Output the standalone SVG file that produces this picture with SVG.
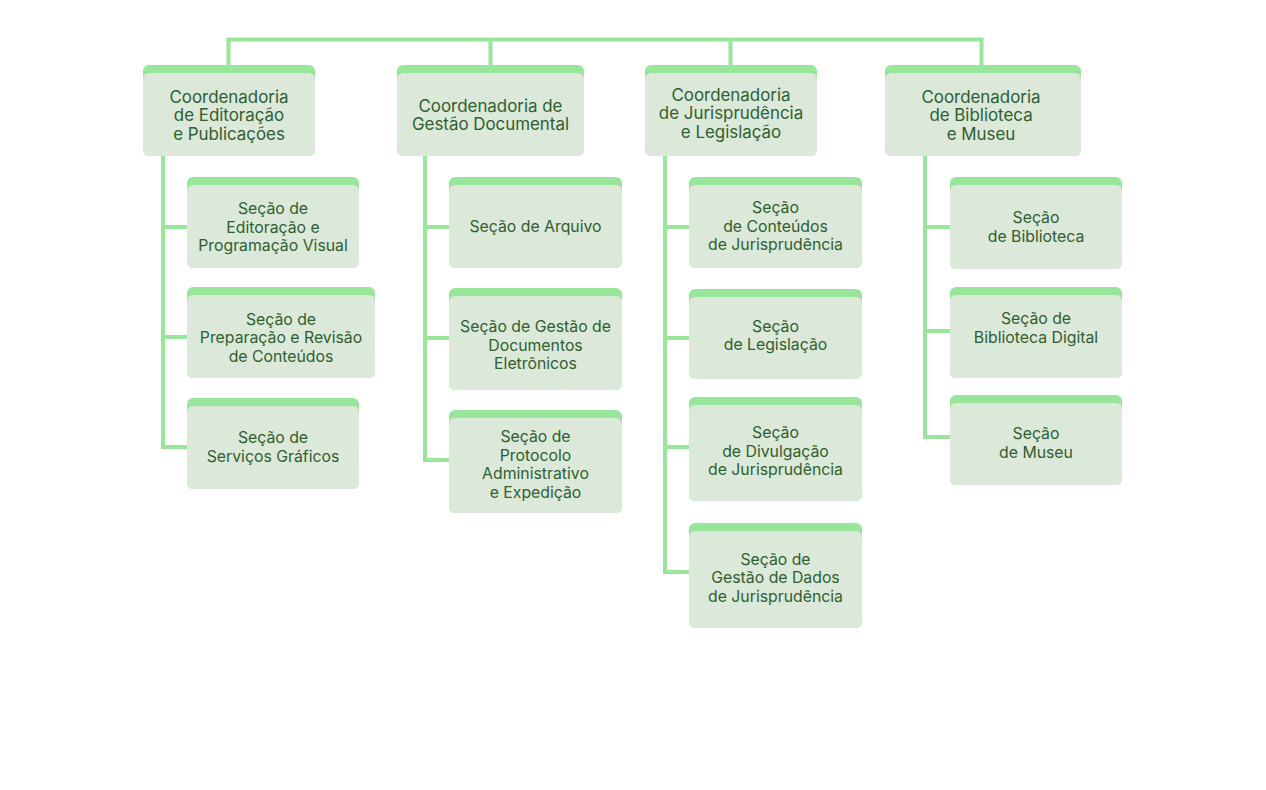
<svg xmlns="http://www.w3.org/2000/svg" width="1266" height="790" viewBox="0 0 1266 790">
<style>
.top{fill:#98e69c}
.body{fill:#dce8da}
.c{font-family:Inter,"Liberation Sans",sans-serif;font-size:16.9px;fill:#2e5f2f;text-anchor:middle}
.s{font-family:Inter,"Liberation Sans",sans-serif;font-size:15.8px;fill:#2e5f2f;text-anchor:middle}
.ln{fill:none;stroke:#98e69c;stroke-width:4;stroke-linejoin:miter;stroke-linecap:butt}
</style>
<rect width="1266" height="790" fill="#ffffff"/>
<g id="connectors">
<path class="ln" d="M228.5 65V39.5H981.5V65M490.5 39.5V65M730.5 39.5V65"/>
<path class="ln" d="M163 156V447H187M163 227H187M163 337H187"/>
<path class="ln" d="M425 156V460H449M425 227H449M425 338H449"/>
<path class="ln" d="M665 156V572H689M665 227H689M665 338H689M665 447H689"/>
<path class="ln" d="M925 156V437H950M925 227H950M925 331H950"/>
</g>
<g id="coord1"><rect class="top" x="143" y="65" width="172" height="91" rx="6"/><rect class="body" x="143" y="73" width="172" height="83" rx="6"/>
<text class="c" x="229" y="102.5">Coordenadoria</text><text class="c" x="229" y="121">de Editoração</text><text class="c" x="229" y="139.5">e Publicações</text></g>
<g id="coord2"><rect class="top" x="397" y="65" width="187" height="91" rx="6"/><rect class="body" x="397" y="73" width="187" height="83" rx="6"/>
<text class="c" x="490.5" y="111.5">Coordenadoria de</text><text class="c" x="490.5" y="130">Gestão Documental</text></g>
<g id="coord3"><rect class="top" x="645" y="65" width="172" height="91" rx="6"/><rect class="body" x="645" y="73" width="172" height="83" rx="6"/>
<text class="c" x="731" y="100.5">Coordenadoria</text><text class="c" x="731" y="119">de Jurisprudência</text><text class="c" x="731" y="137.5">e Legislação</text></g>
<g id="coord4"><rect class="top" x="885" y="65" width="196" height="91" rx="6"/><rect class="body" x="885" y="73" width="196" height="83" rx="6"/>
<text class="c" x="981" y="102.5">Coordenadoria</text><text class="c" x="981" y="121">de Biblioteca</text><text class="c" x="981" y="139.5">e Museu</text></g>

<g id="s1a"><rect class="top" x="187" y="177" width="172" height="91" rx="6"/><rect class="body" x="187" y="185" width="172" height="83" rx="6"/>
<text class="s" x="273" y="214">Seção de</text><text class="s" x="273" y="232.5">Editoração e</text><text class="s" x="273" y="251">Programação Visual</text></g>
<g id="s1b"><rect class="top" x="187" y="287" width="188" height="91" rx="6"/><rect class="body" x="187" y="295" width="188" height="83" rx="6"/>
<text class="s" x="281" y="324.5">Seção de</text><text class="s" x="281" y="343">Preparação e Revisão</text><text class="s" x="281" y="361.5">de Conteúdos</text></g>
<g id="s1c"><rect class="top" x="187" y="398" width="172" height="91" rx="6"/><rect class="body" x="187" y="406" width="172" height="83" rx="6"/>
<text class="s" x="273" y="443">Seção de</text><text class="s" x="273" y="461.5">Serviços Gráficos</text></g>

<g id="s2a"><rect class="top" x="449" y="177" width="173" height="91" rx="6"/><rect class="body" x="449" y="185" width="173" height="83" rx="6"/>
<text class="s" x="535.5" y="232">Seção de Arquivo</text></g>
<g id="s2b"><rect class="top" x="449" y="288" width="173" height="102" rx="6"/><rect class="body" x="449" y="296" width="173" height="94" rx="6"/>
<text class="s" x="535.5" y="332">Seção de Gestão de</text><text class="s" x="535.5" y="350.5">Documentos</text><text class="s" x="535.5" y="369">Eletrônicos</text></g>
<g id="s2c"><rect class="top" x="449" y="410" width="173" height="103" rx="6"/><rect class="body" x="449" y="418" width="173" height="95" rx="6"/>
<text class="s" x="535.5" y="442">Seção de</text><text class="s" x="535.5" y="460.5">Protocolo</text><text class="s" x="535.5" y="479">Administrativo</text><text class="s" x="535.5" y="497.5">e Expedição</text></g>

<g id="s3a"><rect class="top" x="689" y="177" width="173" height="91" rx="6"/><rect class="body" x="689" y="185" width="173" height="83" rx="6"/>
<text class="s" x="775.5" y="213">Seção</text><text class="s" x="775.5" y="231.5">de Conteúdos</text><text class="s" x="775.5" y="250">de Jurisprudência</text></g>
<g id="s3b"><rect class="top" x="689" y="289" width="173" height="90" rx="6"/><rect class="body" x="689" y="297" width="173" height="82" rx="6"/>
<text class="s" x="775.5" y="331.5">Seção</text><text class="s" x="775.5" y="350">de Legislação</text></g>
<g id="s3c"><rect class="top" x="689" y="397" width="173" height="104" rx="6"/><rect class="body" x="689" y="405" width="173" height="96" rx="6"/>
<text class="s" x="775.5" y="438">Seção</text><text class="s" x="775.5" y="456.5">de Divulgação</text><text class="s" x="775.5" y="475">de Jurisprudência</text></g>
<g id="s3d"><rect class="top" x="689" y="523" width="173" height="105" rx="6"/><rect class="body" x="689" y="531" width="173" height="97" rx="6"/>
<text class="s" x="775.5" y="564.5">Seção de</text><text class="s" x="775.5" y="583">Gestão de Dados</text><text class="s" x="775.5" y="601.5">de Jurisprudência</text></g>

<g id="s4a"><rect class="top" x="950" y="177" width="172" height="92" rx="6"/><rect class="body" x="950" y="185" width="172" height="84" rx="6"/>
<text class="s" x="1036" y="223">Seção</text><text class="s" x="1036" y="241.5">de Biblioteca</text></g>
<g id="s4b"><rect class="top" x="950" y="287" width="172" height="91" rx="6"/><rect class="body" x="950" y="295" width="172" height="83" rx="6"/>
<text class="s" x="1036" y="324">Seção de</text><text class="s" x="1036" y="342.5">Biblioteca Digital</text></g>
<g id="s4c"><rect class="top" x="950" y="395" width="172" height="90" rx="6"/><rect class="body" x="950" y="403" width="172" height="82" rx="6"/>
<text class="s" x="1036" y="439">Seção</text><text class="s" x="1036" y="457.5">de Museu</text></g>
</svg>
